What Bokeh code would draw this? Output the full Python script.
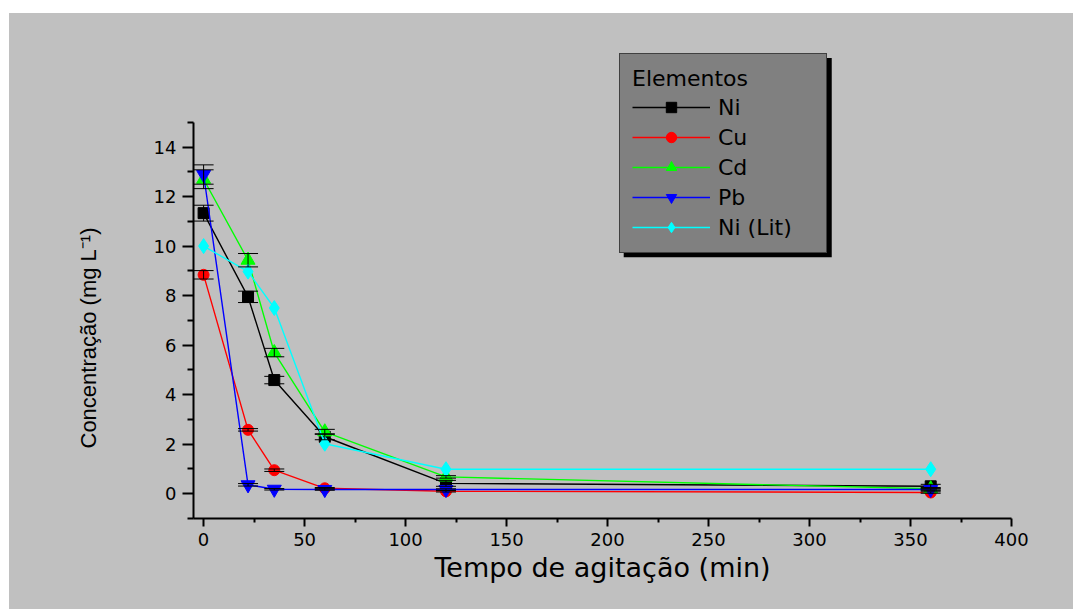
from bokeh.plotting import figure
from bokeh.models import (ColumnDataSource, Whisker, TeeHead, Legend, LegendItem,
                          FixedTicker, BoxAnnotation, Spacer, Range1d, Title)
from bokeh.layouts import column, row
from bokeh.embed import file_html
from bokeh.resources import INLINE

# ---- data ----
time_min = [0, 22, 35, 60, 120, 360]
ni = [11.33, 7.95, 4.59, 2.30, 0.42, 0.30]
ni_err = [0.32, 0.23, 0.15, 0.12, 0.12, 0.08]
cu = [8.84, 2.58, 0.95, 0.22, 0.10, 0.05]
cu_err = [0.17, 0.05, 0.05, 0.03, 0.03, 0.03]
cd = [12.70, 9.43, 5.70, 2.50, 0.68, 0.20]
cd_err = [0.38, 0.27, 0.17, 0.10, 0.05, 0.05]
pb = [12.89, 0.36, 0.18, 0.17, 0.17, 0.17]
pb_err = [0.39, 0.05, 0.03, 0.03, 0.03, 0.03]
ni_lit = [10.0, 8.97, 7.50, 2.02, 0.99, 0.99]

series_names = ["Ni", "Cu", "Cd", "Pb", "Ni (Lit)"]
series_values = [ni, cu, cd, pb, ni_lit]
series_errors = [ni_err, cu_err, cd_err, pb_err, None]
series_colors = ["black", "red", "lime", "blue", "cyan"]
series_markers = ["square", "circle", "triangle", "inverted_triangle", "diamond"]
series_sizes = [11, 11, 14, 14, 15]

x_ticks = [0, 50, 100, 150, 200, 250, 300, 350, 400]
x_minor = [25, 75, 125, 175, 225, 275, 325, 375]
y_ticks = [0, 2, 4, 6, 8, 10, 12, 14]
y_minor = [-1, 1, 3, 5, 7, 9, 11, 13, 15]

FONT = "DejaVu Sans"
BG = "#c0c0c0"

p = figure(width=1064, height=596, frame_width=818, frame_height=473,
           x_range=Range1d(-5, 400), y_range=Range1d(-1, 18.1),
           output_backend="svg", toolbar_location=None,
           min_border_left=184, min_border_right=62,
           min_border_top=32, min_border_bottom=91,
           background_fill_color=BG, border_fill_color=BG,
           outline_line_color=None)
p.styles = {"background-color": BG}
p.grid.visible = False

xa = p.xaxis[0]
xa.bounds = (-5, 400)
xa.ticker = FixedTicker(ticks=x_ticks, minor_ticks=x_minor)
xa.axis_label = "Tempo de agitação (min)"
ya = p.yaxis[0]
ya.bounds = (-1, 15)
ya.ticker = FixedTicker(ticks=y_ticks, minor_ticks=y_minor)

for ax in (xa, ya):
    ax.axis_line_width = 2
    ax.axis_line_color = "black"
    ax.major_tick_line_width = 2
    ax.minor_tick_line_width = 2
    ax.major_tick_in = 0
    ax.minor_tick_in = 0
    ax.major_label_text_font = FONT
    ax.major_label_text_font_size = "18px"
    ax.major_label_text_color = "black"
    ax.major_label_standoff = 6
    ax.axis_label_text_color = "black"
    ax.axis_label_text_font_style = "normal"

xa.major_tick_out = 8
xa.minor_tick_out = 4
xa.axis_label_text_font = FONT
xa.axis_label_text_font_size = "27px"
xa.axis_label_standoff = 3

ya.major_tick_out = 11
ya.minor_tick_out = 6

# y-axis title, placed along the axis (not the taller frame)
ytitle = Title(text="Concentração (mg L⁻¹)", align="left", offset=70,
               standoff=100, text_font="Liberation Sans",
               text_font_size="22px", text_font_style="normal",
               text_color="black")
p.add_layout(ytitle, "left")

items = []
for name, vals, errs, col, mk, sz in zip(series_names, series_values, series_errors,
                                         series_colors, series_markers, series_sizes):
    data = dict(x=time_min, y=vals)
    if errs is not None:
        data["upper"] = [v + e for v, e in zip(vals, errs)]
        data["lower"] = [v - e for v, e in zip(vals, errs)]
    src = ColumnDataSource(data)
    lr = p.line("x", "y", source=src, line_color=col, line_width=1.4)
    sr = p.scatter("x", "y", source=src, marker=mk, size=sz,
                   fill_color=col, line_color=col)
    if errs is not None:
        w = Whisker(source=src, base="x", upper="upper", lower="lower",
                    line_color="black", line_width=1, level="annotation",
                    upper_head=TeeHead(size=20, line_color="black", line_width=1),
                    lower_head=TeeHead(size=20, line_color="black", line_width=1))
        p.add_layout(w)
    items.append(LegendItem(label=name, renderers=[lr, sr]))

# legend drop shadow
shadow = BoxAnnotation(left=208, right=311, top=17.6, bottom=9.55,
                       fill_color="black", fill_alpha=1, line_color=None,
                       level="annotation")
p.add_layout(shadow)

legend = Legend(items=items, title="Elementos", location=(426, 265),
                orientation="vertical",
                background_fill_color="#808080", background_fill_alpha=1,
                border_line_color="black", border_line_width=1,
                label_text_font=FONT, label_text_font_size="22px",
                label_text_color="black",
                title_text_font=FONT, title_text_font_size="22px",
                title_text_font_style="normal", title_text_color="black",
                glyph_width=78, glyph_height=26, label_height=26,
                label_width=96, label_standoff=8, spacing=4,
                padding=12, title_standoff=3, margin=0)
p.add_layout(legend, "center")

layout = row(Spacer(width=9), column(Spacer(height=13), p))
open("out.html", "w").write(file_html(layout, INLINE, title="chart"))
